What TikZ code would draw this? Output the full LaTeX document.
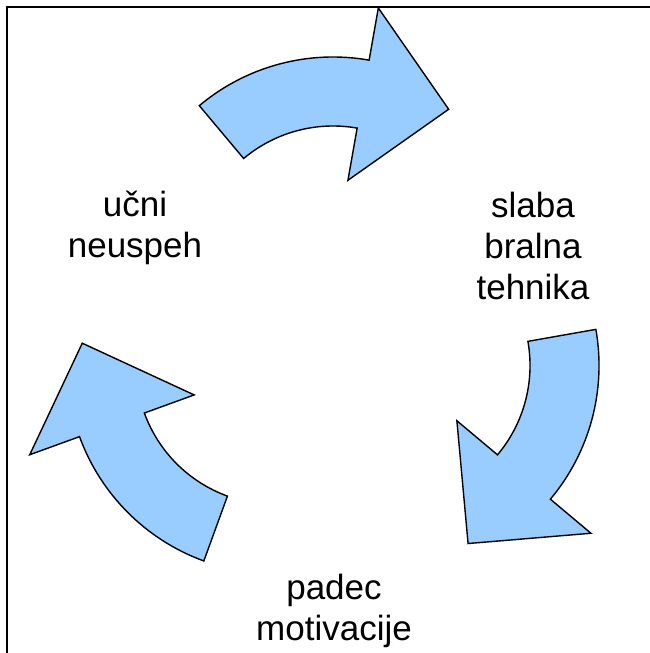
\documentclass[tikz,border=0pt]{standalone}
\usepackage{fontspec}
\setmainfont{Liberation Sans}
\usepackage{tikz}
\definecolor{arrowcolor}{RGB}{153,204,255}

\begin{document}
\begin{tikzpicture}[x=1pt,y=1pt,
cyclearrow/.style={
  draw=black,
  fill=arrowcolor,
  line width=1.4pt,
  line join=miter},
cyclelabel/.style={
  anchor=north,
  inner sep=0pt,
  align=center,
  font={\fontsize{35}{41}\selectfont}},
]
\useasboundingbox (0,0) rectangle (650,653);
\draw[line width=2pt] (7,0) |- (650,646);

\coordinate (MID) at (333,321);
\coordinate (TOP) at ([shift={(90:67)}]MID);
\coordinate (RIGHT) at ([shift={(-30:67)}]MID);
\coordinate (LEFT) at ([shift={(210:67)}]MID);

\draw[cyclearrow,shift={(TOP)}] (130:208) arc[start angle=130,end angle=80,radius=208]
  -- (80:261) -- (53.4:194) -- (80:86) -- (80:139) arc[start angle=80,end angle=130,radius=139] -- cycle;
\draw[cyclearrow,shift={(RIGHT)}] (10:208) arc[start angle=10,end angle=-40,radius=208]
  -- (-40:261) -- (-66.6:194) -- (-40:86) -- (-40:139) arc[start angle=-40,end angle=10,radius=139] -- cycle;
\draw[cyclearrow,shift={(LEFT)}] (250:208) arc[start angle=250,end angle=200,radius=208]
  -- (200:261) -- (173.4:194) -- (200:86) -- (200:139) arc[start angle=200,end angle=250,radius=139] -- cycle;

\node[cyclelabel] (NEUSPEH) at (135,462) {učni\\neuspeh};
\node[cyclelabel] (BRALNA) at (533,461) {slaba\\bralna\\tehnika};
\node[cyclelabel] (MOTIV) at (334,79) {padec\\motivacije};
\end{tikzpicture}
\end{document}
